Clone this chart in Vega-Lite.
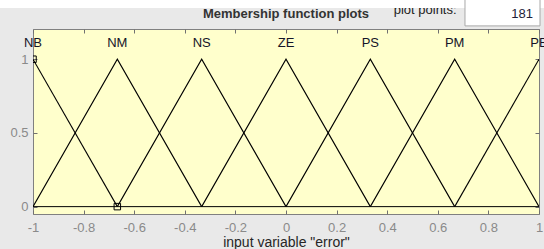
{
  "$schema": "https://vega.github.io/schema/vega-lite/v6.json",
  "width": 506,
  "height": 185,
  "autosize": "none",
  "padding": {"left": 33, "top": 29, "right": 5, "bottom": 35},
  "background": "#e9e9e9",
  "config": {
    "font": "Liberation Sans",
    "view": {"fill": "#ffffcc", "stroke": "#808080", "strokeWidth": 1},
    "axis": {
      "grid": false,
      "domain": false,
      "tickColor": "#707070",
      "tickSize": -4,
      "labelFont": "Liberation Sans",
      "labelFontSize": 13,
      "labelColor": "#8a8a8a",
      "titleFont": "Liberation Sans",
      "titleFontSize": 14,
      "titleFontWeight": "normal",
      "titleColor": "#262626"
    }
  },
  "datasets": {
    "mf": [
      {"mf": "NB", "x": -1, "y": 1},
      {"mf": "NB", "x": -0.6667, "y": 0},
      {"mf": "NM", "x": -1, "y": 0},
      {"mf": "NM", "x": -0.6667, "y": 1},
      {"mf": "NM", "x": -0.3333, "y": 0},
      {"mf": "NS", "x": -0.6667, "y": 0},
      {"mf": "NS", "x": -0.3333, "y": 1},
      {"mf": "NS", "x": 0, "y": 0},
      {"mf": "ZE", "x": -0.3333, "y": 0},
      {"mf": "ZE", "x": 0, "y": 1},
      {"mf": "ZE", "x": 0.3333, "y": 0},
      {"mf": "PS", "x": 0, "y": 0},
      {"mf": "PS", "x": 0.3333, "y": 1},
      {"mf": "PS", "x": 0.6667, "y": 0},
      {"mf": "PM", "x": 0.3333, "y": 0},
      {"mf": "PM", "x": 0.6667, "y": 1},
      {"mf": "PM", "x": 1, "y": 0},
      {"mf": "PB", "x": 0.6667, "y": 0},
      {"mf": "PB", "x": 1, "y": 1}
    ],
    "names": [
      {"name": "NB", "x": -1},
      {"name": "NM", "x": -0.6667},
      {"name": "NS", "x": -0.3333},
      {"name": "ZE", "x": 0},
      {"name": "PS", "x": 0.3333},
      {"name": "PM", "x": 0.6667},
      {"name": "PB", "x": 1}
    ],
    "handles": [
      {"x": -1, "y": 1},
      {"x": -0.6667, "y": 0}
    ],
    "texts": [
      {"title": "Membership function plots", "pp": "plot points:", "n": "181"}
    ]
  },
  "resolve": {"axis": {"x": "independent", "y": "independent"}},
  "layer": [
    {
      "data": {"name": "mf"},
      "mark": {"type": "line", "color": "#000000", "strokeWidth": 1.1, "clip": true},
      "encoding": {
        "x": {
          "field": "x", "type": "quantitative",
          "scale": {"domain": [-1, 1], "nice": false, "zero": false},
          "axis": {
            "orient": "bottom",
            "values": [-1, -0.8, -0.6, -0.4, -0.2, 0, 0.2, 0.4, 0.6, 0.8, 1],
            "title": "input variable \"error\"",
            "labelPadding": 11,
            "titlePadding": 1,
            "labelFlush": false,
            "labelOverlap": false,
            "labelExpr": "replace(format(datum.value, '~g'), '\u2212', '-')"
          }
        },
        "y": {
          "field": "y", "type": "quantitative",
          "scale": {"domain": [-0.05, 1.205], "nice": false, "zero": false},
          "axis": {
            "orient": "left",
            "values": [0, 0.5, 1],
            "title": null,
            "labelPadding": 9,
            "labelFlush": false,
            "labelOverlap": false,
            "labelExpr": "format(datum.value, '~g')"
          }
        },
        "detail": {"field": "mf"}
      }
    },
    {
      "data": {"values": [{}]},
      "mark": {"type": "rule", "color": "#000000", "strokeWidth": 1},
      "encoding": {"y": {"datum": 0, "axis": null}}
    },
    {
      "data": {"name": "names"},
      "mark": {"type": "text", "fontSize": 13, "color": "#141428", "baseline": "middle", "align": "center"},
      "encoding": {
        "x": {
          "field": "x", "type": "quantitative",
          "axis": {
            "orient": "top", "labels": false, "title": null,
            "values": [-1, -0.8, -0.6, -0.4, -0.2, 0, 0.2, 0.4, 0.6, 0.8, 1]
          }
        },
        "y": {
          "datum": 1.11,
          "axis": {"orient": "right", "labels": false, "title": null, "values": [0, 0.5, 1]}
        },
        "text": {"field": "name"}
      }
    },
    {
      "data": {"name": "handles"},
      "mark": {"type": "point", "shape": "square", "filled": false, "size": 42, "color": "#000000", "strokeWidth": 1, "clip": true, "opacity": 1},
      "encoding": {
        "x": {"field": "x", "type": "quantitative", "axis": null},
        "y": {"field": "y", "type": "quantitative", "axis": null}
      }
    },
    {
      "data": {"name": "texts"},
      "mark": {"type": "text", "fontSize": 13, "fontWeight": "bold", "color": "#333333", "baseline": "middle", "align": "center"},
      "encoding": {
        "x": {"datum": 0, "axis": null},
        "y": {"datum": 1.307, "axis": null},
        "text": {"field": "title"}
      }
    },
    {
      "data": {"name": "texts"},
      "mark": {"type": "text", "fontSize": 13, "color": "#222222", "baseline": "alphabetic", "align": "center"},
      "encoding": {
        "x": {"datum": 0.55, "axis": null},
        "y": {"datum": 1.307, "axis": null},
        "text": {"field": "pp"}
      }
    },
    {
      "data": {"values": [{}]},
      "mark": {"type": "rect", "color": "#ffffff"},
      "encoding": {
        "x": {"datum": -1.2, "axis": null},
        "x2": {"datum": 1.1},
        "y": {"datum": 1.348, "axis": null},
        "y2": {"datum": 1.5}
      }
    },
    {
      "data": {"values": [{}]},
      "mark": {"type": "rect", "fill": "#ffffff", "stroke": "#a8a8a8", "strokeWidth": 1},
      "encoding": {
        "x": {"datum": 0.7075, "axis": null},
        "x2": {"datum": 1.004},
        "y": {"datum": 1.226, "axis": null},
        "y2": {"datum": 1.5}
      }
    },
    {
      "data": {"name": "texts"},
      "mark": {"type": "text", "fontSize": 13, "color": "#1e1e38", "baseline": "middle", "align": "right"},
      "encoding": {
        "x": {"datum": 0.976, "axis": null},
        "y": {"datum": 1.307, "axis": null},
        "text": {"field": "n"}
      }
    }
  ]
}
